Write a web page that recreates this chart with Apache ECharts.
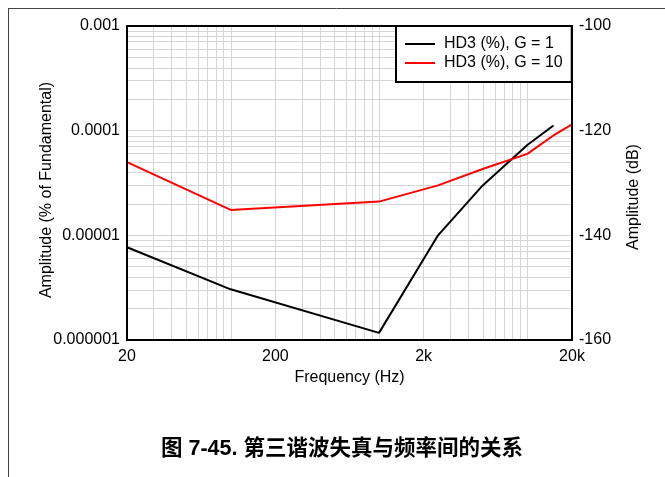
<!DOCTYPE html>
<html>
<head>
<meta charset="utf-8">
<script src="https://cdn.jsdelivr.net/npm/echarts@6/dist/echarts.min.js"></script>
<style>
html,body{margin:0;padding:0;background:#fff;}
#chart{width:665px;height:477px;}
</style>
</head>
<body>
<div id="chart"></div>
<script>
// ---- data ----
var freqG1 = [20, 100, 1000, 2500, 5000, 10000, 15000];
var hd3G1 = [7.7e-6, 3.05e-6, 1.17e-6, 1.0e-5, 3.0e-5, 7.3e-5, 1.12e-4];
var freqG10 = [20, 100, 1000, 2500, 5000, 10000, 15000, 20000];
var hd3G10 = [5.0e-5, 1.75e-5, 2.1e-5, 3.0e-5, 4.3e-5, 6.0e-5, 9.0e-5, 1.15e-4];
var seriesNames = ['HD3 (%), G = 1', 'HD3 (%), G = 10'];
var xTickLabels = ['20', '200', '2k', '20k'];
var yLeftTickLabels = ['0.000001', '0.00001', '0.0001', '0.001'];
var yRightTickLabels = ['-160', '-140', '-120', '-100'];
var xGridDecades = [10, 100, 1000, 10000];
var yGridDecades = [1e-6, 1e-5, 1e-4];
var gridMultipliers = [1, 2, 3, 4, 5, 6, 7, 8, 9];
var fMin = 20, fMax = 20000, aMin = 1e-6, aMax = 1e-3;

function lx(f) { return Math.log10(f / fMin); }
function ly(a) { return Math.log10(a); }

var xGridVals = [];
xGridDecades.forEach(function (d) {
  gridMultipliers.forEach(function (k) {
    var f = k * d;
    if (f > fMin && f < fMax) xGridVals.push(f);
  });
});
var yGridVals = [];
yGridDecades.forEach(function (d) {
  gridMultipliers.forEach(function (k) {
    var a = k * d;
    if (a > aMin * 1.0001 && a < aMax * 0.9999) yGridVals.push(a);
  });
});

var gridLineData = [];
xGridVals.forEach(function (f) { gridLineData.push({ xAxis: lx(f) }); });
yGridVals.forEach(function (a) { gridLineData.push({ yAxis: ly(a) }); });

var font = "'Liberation Sans', Arial, sans-serif";

var chart = echarts.init(document.getElementById('chart'), null, { renderer: 'canvas' });
chart.setOption({
  animation: false,
  backgroundColor: '#fff',
  textStyle: { fontFamily: font },
  grid: {
    left: 127, right: 93, top: 26, bottom: 137,
    show: true, borderColor: '#000', borderWidth: 2, backgroundColor: 'transparent',
    containLabel: false, z: 4
  },
  legend: {
    data: seriesNames,
    orient: 'vertical',
    left: 396, top: 26,
    padding: [10, 9, 11, 9],
    itemGap: 3,
    icon: 'rect',
    itemWidth: 30, itemHeight: 2,
    backgroundColor: '#fff',
    borderColor: '#000', borderWidth: 2,
    borderRadius: 0,
    textStyle: { fontFamily: font, fontSize: 16, color: '#000', padding: [0, 0, 0, 4], lineHeight: 16 },
    z: 10
  },
  xAxis: {
    type: 'value', min: 0, max: 3, interval: 1,
    axisLine: { show: false }, axisTick: { show: false }, splitLine: { show: false },
    axisLabel: {
      margin: 9, fontSize: 16, color: '#000', fontFamily: font,
      formatter: function (v) { return xTickLabels[Math.round(v)]; }
    },
    name: 'Frequency (Hz)', nameLocation: 'middle', nameGap: 24,
    nameTextStyle: { fontSize: 16, color: '#000', fontFamily: font }
  },
  yAxis: [
    {
      type: 'value', min: -6, max: -3, interval: 1, position: 'left',
      axisLine: { show: false }, axisTick: { show: false }, splitLine: { show: false },
      axisLabel: {
        margin: 7, fontSize: 16, color: '#000', fontFamily: font,
        formatter: function (v) { return yLeftTickLabels[Math.round(v) + 6]; }
      }
    },
    {
      type: 'value', min: -160, max: -100, interval: 20, position: 'right',
      axisLine: { show: false }, axisTick: { show: false }, splitLine: { show: false },
      axisLabel: {
        margin: 7, fontSize: 16, color: '#000', fontFamily: font,
        formatter: function (v) { return yRightTickLabels[Math.round((v + 160) / 20)]; }
      }
    }
  ],
  series: [
    {
      name: '__grid', type: 'line', data: [], z: 1, silent: true,
      markLine: {
        z: 1, zlevel: 0,
        silent: true, symbol: 'none', animation: false,
        label: { show: false },
        lineStyle: { color: '#d6d6d6', type: 'solid', width: 1 },
        emphasis: { disabled: true },
        data: gridLineData
      }
    },
    {
      name: seriesNames[0], type: 'line', yAxisIndex: 0, z: 3,
      symbol: 'none', showSymbol: false, color: '#000',
      lineStyle: { color: '#000', width: 2 },
      data: freqG1.map(function (f, i) { return [lx(f), ly(hd3G1[i])]; })
    },
    {
      name: seriesNames[1], type: 'line', yAxisIndex: 0, z: 3,
      symbol: 'none', showSymbol: false, color: '#ff0000',
      lineStyle: { color: '#ff0000', width: 2 },
      data: freqG10.map(function (f, i) { return [lx(f), ly(hd3G10[i])]; })
    }
  ],
  graphic: [
    { type: 'line', shape: { x1: 8, y1: 8.5, x2: 665, y2: 8.5 }, style: { stroke: '#444', lineWidth: 1 }, silent: true },
    { type: 'line', shape: { x1: 8.5, y1: 8, x2: 8.5, y2: 477 }, style: { stroke: '#444', lineWidth: 1 }, silent: true },
    {
      type: 'text', x: 47, y: 190, rotation: Math.PI / 2, silent: true,
      style: { text: 'Amplitude (% of Fundamental)', fill: '#000', font: '16px ' + font, align: 'center', verticalAlign: 'middle' }
    },
    {
      type: 'text', x: 634, y: 197, rotation: Math.PI / 2, silent: true,
      style: { text: 'Amplitude (dB)', fill: '#000', font: '16px ' + font, align: 'center', verticalAlign: 'middle' }
    },
    {
      type: 'text', x: 342, y: 449, silent: true,
      style: { text: '图 7-45. 第三谐波失真与频率间的关系', fill: '#000', font: "bold 21.5px 'Liberation Sans', 'Noto Sans CJK SC', sans-serif", align: 'center', verticalAlign: 'middle' }
    }
  ]
});
</script>
</body>
</html>
